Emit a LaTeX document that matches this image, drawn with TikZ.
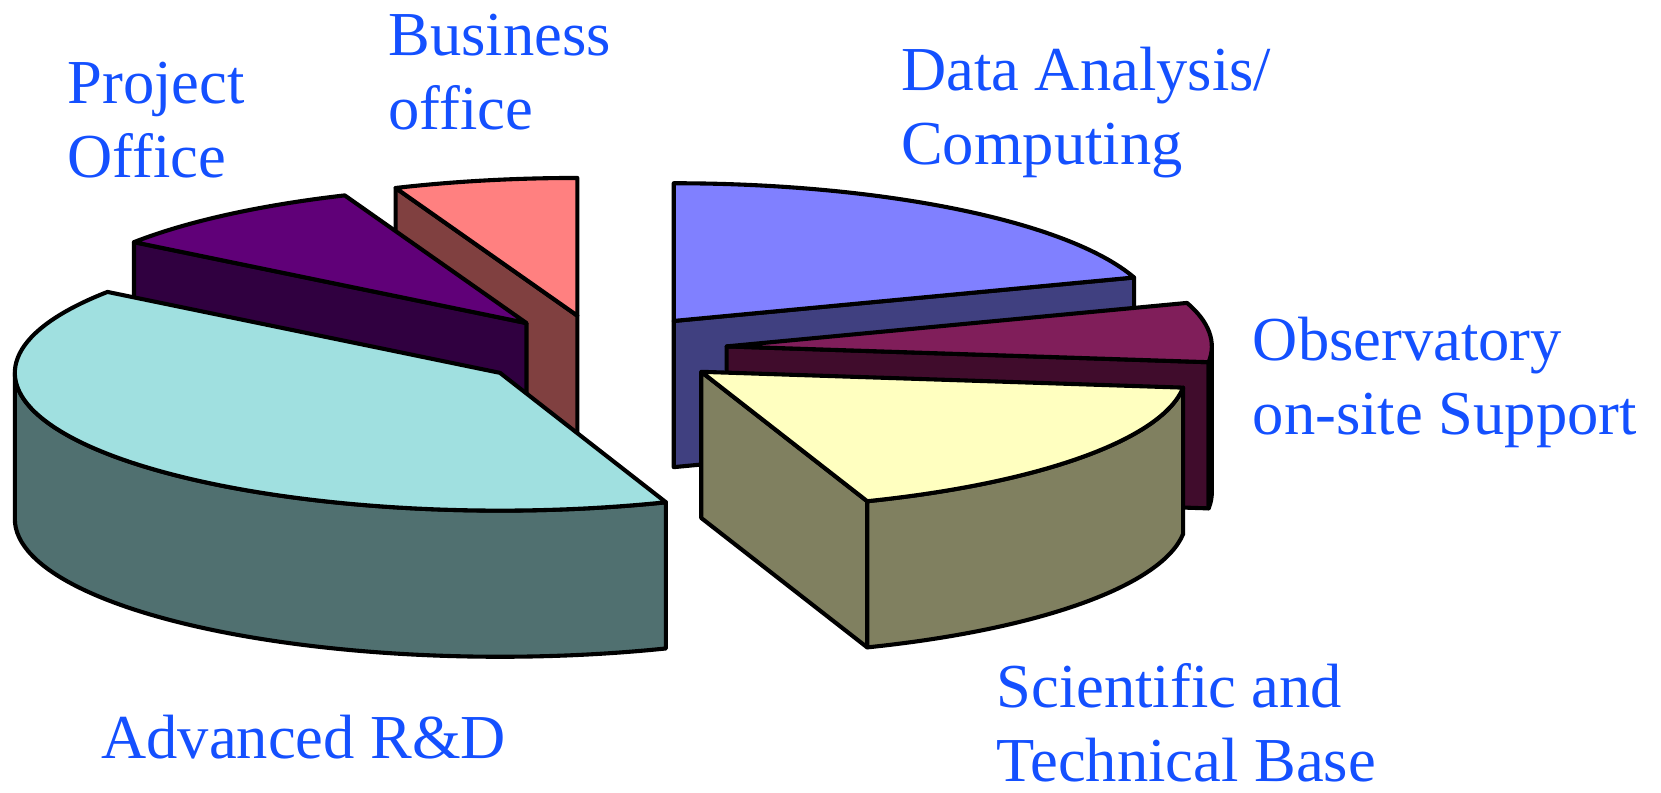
\documentclass[tikz,border=0pt]{standalone}
\usepackage{fontspec}
\setmainfont{Liberation Serif}
\usetikzlibrary{calc}

\definecolor{lblblue}{RGB}{20,80,255}
\definecolor{rdtop}{RGB}{160,224,224}
\definecolor{rdside}{RGB}{80,112,112}
\definecolor{potop}{RGB}{96,0,120}
\definecolor{poside}{RGB}{48,0,64}
\definecolor{botop}{RGB}{255,128,128}
\definecolor{boside}{RGB}{128,64,64}
\definecolor{datop}{RGB}{128,128,255}
\definecolor{daside}{RGB}{64,64,128}
\definecolor{obtop}{RGB}{128,30,90}
\definecolor{obside}{RGB}{64,12,44}
\definecolor{sttop}{RGB}{255,255,192}
\definecolor{stside}{RGB}{128,128,96}

\tikzset{
  rim/.style={x radius=458, y radius=130},
  face/.style={draw=black, line width=1.1pt, line join=round},
  lbl/.style={text=lblblue, font=\fontsize{16.8}{19.9}\selectfont, align=left, anchor=base west, inner sep=0pt},
}

\begin{document}
\begin{tikzpicture}[x=0.1mm, y=-0.1mm]
\useasboundingbox (0,0) rectangle (1568,748);

% Business office
\coordinate (bo) at (545,298);
\path (bo) ++({458*cos(248)},{130*sin(248)}) coordinate (bo1);
\draw[face, fill=boside] (bo) -- (bo1) -- ($(bo1)+(0,138)$) -- ($(bo)+(0,138)$) -- cycle;
\draw[face, fill=botop] (bo) -- (bo1) arc[rim, start angle=248, end angle=270] -- cycle;

% Project Office
\coordinate (po) at (497,305);
\path (po) ++({458*cos(216)},{130*sin(216)}) coordinate (po1);
\draw[face, fill=poside] (po) -- (po1) -- ($(po1)+(0,138)$) -- ($(po)+(0,138)$) -- cycle;
\draw[face, fill=potop] (po) -- (po1) arc[rim, start angle=216, end angle=248] -- cycle;

% Data Analysis / Computing
\coordinate (da) at (636,303);
\path (da) ++(0,-130) coordinate (da1);
\path (da) ++({458*cos(341.6)},{130*sin(341.6)}) coordinate (da2);
\draw[face, fill=daside] (da) -- (da2) -- ($(da2)+(0,138)$) -- ($(da)+(0,138)$) -- cycle;
\draw[face, fill=datop] (da) -- (da1) arc[rim, start angle=270, end angle=341.6] -- cycle;

% Observatory on-site Support
\coordinate (ob) at (686,327);
\path (ob) ++({458*cos(341.6)},{130*sin(341.6)}) coordinate (ob1);
\path (ob) ++(458,0) coordinate (ob0);
\path (ob) ++({458*cos(6.6)},{130*sin(6.6)}) coordinate (ob2);
\draw[face, fill=obside] (ob) -- (ob2) -- ($(ob2)+(0,138)$) -- ($(ob)+(0,138)$) -- cycle;
\draw[face, fill=obside] (ob0) arc[rim, start angle=0, end angle=6.6] -- ++(0,138)
  arc[rim, start angle=6.6, end angle=0] -- cycle;
\draw[face, fill=obtop] (ob) -- (ob1) arc[rim, start angle=341.6, end angle=366.6] -- cycle;

% Scientific and Technical Base
\coordinate (st) at (662,351);
\path (st) ++({458*cos(6.6)},{130*sin(6.6)}) coordinate (st1);
\path (st) ++({458*cos(70)},{130*sin(70)}) coordinate (st2);
\draw[face, fill=stside] (st) -- (st2) -- ($(st2)+(0,138)$) -- ($(st)+(0,138)$) -- cycle;
\draw[face, fill=stside] (st1) arc[rim, start angle=6.6, end angle=70] -- ++(0,138)
  arc[rim, start angle=70, end angle=6.6] -- cycle;
\draw[face, fill=sttop] (st) -- (st1) arc[rim, start angle=6.6, end angle=70] -- cycle;

% Advanced R&D
\coordinate (rd) at (472,352);
\path (rd) ++({458*cos(70)},{130*sin(70)}) coordinate (rd1);
\draw[face, fill=rdside] (rd1) arc[rim, start angle=70, end angle=180] -- ++(0,138)
  arc[rim, start angle=180, end angle=70] -- cycle;
\draw[face, fill=rdtop] (rd) -- (rd1) arc[rim, start angle=70, end angle=216] -- cycle;

% labels (base = last line)
\node[lbl] (po-lbl) at (63,168) {Project\\Office};
\node[lbl] (bo-lbl) at (366,122) {Business\\office};
\node[lbl] (da-lbl) at (850,155) {Data Analysis/\\Computing};
\node[lbl] (ob-lbl) at (1182,410) {Observatory\\on-site Support};
\node[lbl] (st-lbl) at (940,738) {Scientific and\\Technical Base};
\node[lbl] (rd-lbl) at (95,716) {Advanced R\&D};
\end{tikzpicture}
\end{document}
